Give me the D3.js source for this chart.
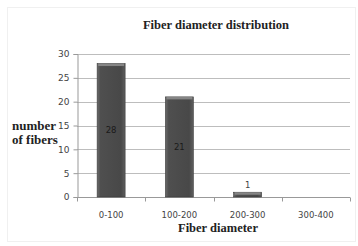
<!DOCTYPE html>
<html>
<head>
<meta charset="utf-8">
<script src="https://cdn.jsdelivr.net/npm/d3@7/dist/d3.min.js"></script>
<style>
body { margin: 0; background: #fff; }
</style>
</head>
<body>
<svg id="graph"></svg>
<script>
var categories = ["0-100", "100-200", "200-300", "300-400"];
var counts = [28, 21, 1, 0];
var yTicks = [0, 5, 10, 15, 20, 25, 30];

var screen = {width: 358, height: 246};
var margin = {left: 77, right: 8, top: 54, bottom: 49};

var svg = d3.select("#graph")
  .attr("width", screen.width)
  .attr("height", screen.height);

// faint chart-area border
svg.append("rect")
  .attr("x", 7.5).attr("y", 7.5)
  .attr("width", screen.width - 10).attr("height", screen.height - 12)
  .attr("fill", "none").attr("stroke", "#f0f0f0");

var defs = svg.append("defs");
var grad = defs.append("linearGradient").attr("id", "barGrad")
  .attr("x1", "0%").attr("x2", "100%");
grad.append("stop").attr("offset", "0%").attr("stop-color", "#6a6a6a");
grad.append("stop").attr("offset", "12%").attr("stop-color", "#4f4f4f");
grad.append("stop").attr("offset", "85%").attr("stop-color", "#484848");
grad.append("stop").attr("offset", "100%").attr("stop-color", "#5e5e5e");

var xScale = d3.scaleBand()
  .domain(categories)
  .range([margin.left, screen.width - margin.right])
  .paddingInner(0.59)
  .paddingOuter(0.295);

var yScale = d3.scaleLinear()
  .domain([0, 30])
  .range([screen.height - margin.bottom, margin.top]);

// gridlines
svg.append("g")
  .selectAll("line")
  .data(yTicks.filter(function (d) { return d > 0; }))
  .enter()
  .append("line")
  .attr("x1", margin.left).attr("x2", screen.width - margin.right)
  .attr("y1", function (d) { return Math.round(yScale(d)) + 0.5; })
  .attr("y2", function (d) { return Math.round(yScale(d)) + 0.5; })
  .attr("stroke", "#bdbdbd");

// y axis
var yAxis = svg.append("g")
  .attr("transform", "translate(" + (margin.left + 0.5) + ",0)")
  .call(d3.axisLeft(yScale).tickValues(yTicks).tickSize(4).tickPadding(4));
yAxis.select(".domain").attr("stroke", "#999");
yAxis.selectAll(".tick line").attr("stroke", "#999");
yAxis.selectAll("text")
  .attr("font-family", "'DejaVu Sans', sans-serif")
  .attr("font-size", 9).attr("fill", "#444");

// x axis
var xLine = d3.scaleLinear().domain([0, 4])
  .range([margin.left, screen.width - margin.right]);
var xAxisG = svg.append("g")
  .attr("transform", "translate(0," + (Math.round(yScale(0)) + 0.5) + ")");
xAxisG.append("line")
  .attr("x1", margin.left).attr("x2", screen.width - margin.right)
  .attr("stroke", "#999");
xAxisG.selectAll(".tk")
  .data([0, 1, 2, 3, 4])
  .enter()
  .append("line")
  .attr("x1", function (d) { return Math.round(xLine(d)) + 0.5; })
  .attr("x2", function (d) { return Math.round(xLine(d)) + 0.5; })
  .attr("y1", 0).attr("y2", 4)
  .attr("stroke", "#999");
xAxisG.selectAll("text")
  .data(categories)
  .enter()
  .append("text")
  .attr("x", function (d) { return xScale(d) + xScale.bandwidth() / 2; })
  .attr("y", 20)
  .attr("text-anchor", "middle")
  .attr("font-family", "'DejaVu Sans', sans-serif")
  .attr("font-size", 8.5).attr("fill", "#444")
  .text(function (d) { return d; });

// bars
var bars = svg.append("g")
  .selectAll("g")
  .data(counts)
  .enter()
  .append("g");
bars.filter(function (d) { return d > 0; })
  .append("rect")
  .attr("x", function (d, i) { return xScale(categories[i]); })
  .attr("y", function (d) { return yScale(d); })
  .attr("width", xScale.bandwidth())
  .attr("height", function (d) { return yScale(0) - yScale(d); })
  .attr("fill", "url(#barGrad)")
  .attr("stroke", "#3a3a3a").attr("stroke-width", 0.6);
bars.filter(function (d) { return d > 0; })
  .append("rect")
  .attr("x", function (d, i) { return xScale(categories[i]) + 1; })
  .attr("y", function (d) { return yScale(d); })
  .attr("width", xScale.bandwidth() - 2)
  .attr("height", 2.5)
  .attr("fill", "#858585");

// data labels
bars.filter(function (d) { return d > 0; })
  .append("text")
  .attr("x", function (d, i) { return xScale(categories[i]) + xScale.bandwidth() / 2; })
  .attr("y", function (d) {
    return d > 3 ? (yScale(d) + yScale(0)) / 2 + 3 : yScale(d) - 4;
  })
  .attr("text-anchor", "middle")
  .attr("font-family", "'DejaVu Sans', sans-serif")
  .attr("font-size", 8.5)
  .attr("fill", function (d) { return d > 3 ? "#1a1a1a" : "#444"; })
  .text(function (d) { return d; });

// titles
var serif = "'Liberation Serif', 'DejaVu Serif', serif";
svg.append("text")
  .attr("x", 216).attr("y", 29)
  .attr("text-anchor", "middle")
  .attr("font-family", serif).attr("font-weight", "bold")
  .attr("font-size", 12.5).attr("fill", "#222")
  .text("Fiber diameter distribution");
svg.append("text")
  .attr("x", 218).attr("y", 232)
  .attr("text-anchor", "middle")
  .attr("font-family", serif).attr("font-weight", "bold")
  .attr("font-size", 12.5).attr("fill", "#222")
  .text("Fiber diameter");
var yl = svg.append("text")
  .attr("font-family", serif).attr("font-weight", "bold")
  .attr("font-size", 13).attr("fill", "#222");
yl.append("tspan").attr("x", 12).attr("y", 130).text("number");
yl.append("tspan").attr("x", 12).attr("y", 144).text("of fibers");
</script>
</body>
</html>
